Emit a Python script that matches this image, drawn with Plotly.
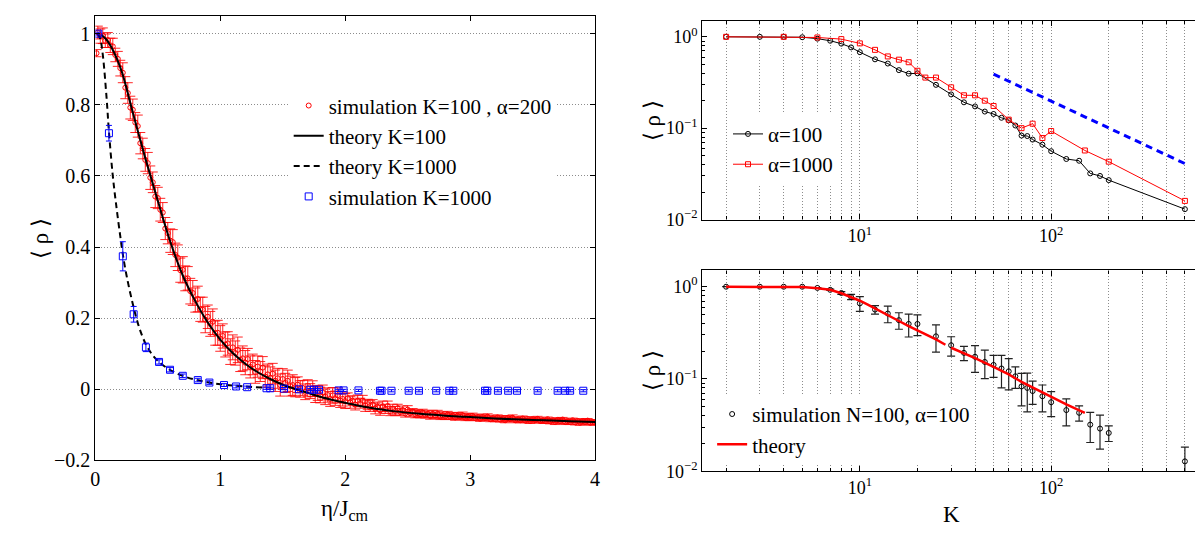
import plotly.graph_objects as go

FONT = "Liberation Serif, Times New Roman, serif"
W, H = 1203, 533

# ---------------- left panel data ----------------
red_x = [0.01,
         0.02, 0.04, 0.06, 0.08, 0.10, 0.12, 0.14, 0.16, 0.18, 0.20,
         0.22, 0.24, 0.26, 0.28, 0.30, 0.32, 0.34, 0.36, 0.38, 0.40,
         0.42, 0.44, 0.46, 0.48, 0.50, 0.52, 0.54, 0.56, 0.58, 0.60,
         0.62, 0.64, 0.66, 0.68, 0.70, 0.72, 0.74, 0.76, 0.78, 0.80,
         0.82, 0.84, 0.86, 0.88, 0.90, 0.92, 0.94, 0.96, 0.98, 1.00,
         1.02, 1.04, 1.06, 1.08, 1.10, 1.12, 1.14, 1.16, 1.18, 1.20,
         1.22, 1.24, 1.26, 1.28, 1.30, 1.32, 1.34, 1.36, 1.38, 1.40,
         1.42, 1.44, 1.46, 1.48, 1.50, 1.52, 1.54, 1.56, 1.58, 1.60,
         1.62, 1.64, 1.66, 1.68, 1.70, 1.72, 1.74, 1.76, 1.78, 1.80,
         1.82, 1.84, 1.86, 1.88, 1.90, 1.92, 1.94, 1.96, 1.98, 2.00,
         2.02, 2.04, 2.06, 2.08, 2.10, 2.12, 2.14, 2.16, 2.18, 2.20,
         2.22, 2.24, 2.26, 2.28, 2.30, 2.32, 2.34, 2.36, 2.38, 2.40,
         2.42, 2.44, 2.46, 2.48, 2.50, 2.52, 2.54, 2.56, 2.58, 2.60,
         2.62, 2.64, 2.66, 2.68, 2.70, 2.72, 2.74, 2.76, 2.78, 2.80,
         2.82, 2.84, 2.86, 2.88, 2.90, 2.92, 2.94, 2.96, 2.98, 3.00,
         3.02, 3.04, 3.06, 3.08, 3.10, 3.12, 3.14, 3.16, 3.18, 3.20,
         3.22, 3.24, 3.26, 3.28, 3.30, 3.32, 3.34, 3.36, 3.38, 3.40,
         3.42, 3.44, 3.46, 3.48, 3.50, 3.52, 3.54, 3.56, 3.58, 3.60,
         3.62, 3.64, 3.66, 3.68, 3.70, 3.72, 3.74, 3.76, 3.78, 3.80,
         3.82, 3.84, 3.86, 3.88, 3.90, 3.92, 3.94, 3.96, 3.98, 4.00]
red_y = [0.945,
         1.003, 0.993, 0.994, 0.980, 0.982, 0.967, 0.964, 0.940, 0.929, 0.903,
         0.890, 0.848, 0.833, 0.792, 0.786, 0.750, 0.740, 0.692, 0.677, 0.645,
         0.636, 0.595, 0.582, 0.542, 0.538, 0.505, 0.497, 0.452, 0.439, 0.418,
         0.414, 0.378, 0.370, 0.335, 0.336, 0.312, 0.312, 0.276, 0.271, 0.251,
         0.254, 0.225, 0.224, 0.196, 0.204, 0.184, 0.190, 0.158, 0.159, 0.143,
         0.150, 0.126, 0.129, 0.106, 0.118, 0.102, 0.111, 0.083, 0.087, 0.075,
         0.085, 0.063, 0.070, 0.049, 0.064, 0.050, 0.061, 0.036, 0.042, 0.032,
         0.044, 0.024, 0.031, 0.012, 0.029, 0.018, 0.024, 0.009, 0.012, 0.006,
         0.013, 0.001, 0.004, -0.007, 0.003, -0.005, 0.002, -0.014, -0.010, -0.016,
         -0.009, -0.021, -0.016, -0.027, -0.017, -0.025, -0.017, -0.032, -0.027, -0.033,
         -0.025, -0.037, -0.032, -0.043, -0.032, -0.039, -0.032, -0.046, -0.042, -0.047,
         -0.043, -0.054, -0.049, -0.059, -0.048, -0.055, -0.047, -0.061, -0.056, -0.061,
         -0.053, -0.064, -0.058, -0.068, -0.057, -0.067, -0.063, -0.070, -0.068, -0.070,
         -0.066, -0.072, -0.069, -0.075, -0.069, -0.073, -0.069, -0.076, -0.073, -0.076,
         -0.071, -0.077, -0.074, -0.079, -0.074, -0.077, -0.073, -0.080, -0.077, -0.080,
         -0.075, -0.081, -0.078, -0.083, -0.078, -0.081, -0.077, -0.084, -0.081, -0.084,
         -0.079, -0.085, -0.082, -0.087, -0.081, -0.084, -0.080, -0.087, -0.084, -0.087,
         -0.082, -0.088, -0.084, -0.089, -0.084, -0.087, -0.083, -0.089, -0.087, -0.089,
         -0.084, -0.090, -0.087, -0.092, -0.086, -0.089, -0.085, -0.092, -0.089, -0.092,
         -0.087, -0.093, -0.089, -0.094, -0.089, -0.092, -0.088, -0.094, -0.092, -0.093]
red_err = [0.010,
           0.018, 0.020, 0.022, 0.019, 0.021, 0.020, 0.023, 0.019, 0.021, 0.022,
           0.028, 0.031, 0.029, 0.032, 0.030, 0.028, 0.031, 0.030, 0.029, 0.032,
           0.030, 0.033, 0.029, 0.031, 0.030, 0.032, 0.028, 0.031, 0.030, 0.033,
           0.035, 0.033, 0.036, 0.034, 0.037, 0.035, 0.033, 0.036, 0.035, 0.034,
           0.036, 0.034, 0.035, 0.037, 0.033, 0.035, 0.036, 0.034, 0.035, 0.036,
           0.034, 0.035, 0.033, 0.036, 0.035, 0.034, 0.036, 0.033, 0.035, 0.034,
           0.030, 0.031, 0.029, 0.032, 0.030, 0.028, 0.031, 0.030, 0.029, 0.031,
           0.029, 0.030, 0.028, 0.031, 0.029, 0.027, 0.030, 0.028, 0.029, 0.027,
           0.022, 0.023, 0.021, 0.022, 0.024, 0.021, 0.022, 0.023, 0.021, 0.022,
           0.021, 0.022, 0.020, 0.021, 0.022, 0.020, 0.021, 0.019, 0.020, 0.021,
           0.015, 0.016, 0.014, 0.015, 0.016, 0.014, 0.015, 0.016, 0.014, 0.015,
           0.014, 0.015, 0.013, 0.014, 0.015, 0.013, 0.014, 0.013, 0.014, 0.013,
           0.011, 0.010, 0.011, 0.010, 0.011, 0.010, 0.009, 0.010, 0.011, 0.010,
           0.010, 0.009, 0.010, 0.009, 0.010, 0.009, 0.010, 0.009, 0.010, 0.009,
           0.009, 0.008, 0.009, 0.008, 0.009, 0.008, 0.009, 0.008, 0.009, 0.008,
           0.008, 0.007, 0.008, 0.007, 0.008, 0.007, 0.008, 0.007, 0.008, 0.007,
           0.007, 0.007, 0.008, 0.007, 0.007, 0.007, 0.008, 0.007, 0.007, 0.007,
           0.007, 0.006, 0.007, 0.007, 0.006, 0.007, 0.007, 0.006, 0.007, 0.007,
           0.006, 0.007, 0.006, 0.007, 0.006, 0.007, 0.006, 0.007, 0.006, 0.007,
           0.006, 0.007, 0.006, 0.007, 0.006, 0.007, 0.006, 0.007, 0.006, 0.007]
assert len(red_x) == len(red_y) == len(red_err)

theory100_x = [0.05, 0.1, 0.2, 0.3, 0.4, 0.5, 0.6, 0.7, 0.8, 0.9, 1.0, 1.1, 1.2, 1.3, 1.4, 1.5,
               1.6, 1.7, 1.8, 1.9, 2.0, 2.2, 2.4, 2.6, 2.8, 3.0, 3.2, 3.4, 3.6, 3.8, 4.0]
theory100_y = [0.996, 0.978, 0.905, 0.778, 0.650, 0.530, 0.415, 0.320, 0.248, 0.188, 0.140, 0.102,
               0.072, 0.048, 0.029, 0.013, 0.001, -0.010, -0.021, -0.030, -0.038, -0.052, -0.062,
               -0.069, -0.074, -0.078, -0.082, -0.085, -0.087, -0.090, -0.092]

theory1000_x = [0.02, 0.04, 0.06, 0.09, 0.11, 0.14, 0.17, 0.20, 0.22, 0.25, 0.30, 0.35, 0.40,
                0.45, 0.50, 0.60, 0.70, 0.80, 0.90, 1.00, 1.20, 1.35]
theory1000_y = [1.000, 0.985, 0.940, 0.820, 0.720, 0.600, 0.510, 0.430, 0.380, 0.320, 0.240,
                0.175, 0.130, 0.100, 0.080, 0.054, 0.038, 0.027, 0.020, 0.014, 0.008, 0.005]

blue_x = [0.024, 0.109, 0.22, 0.307, 0.405, 0.51, 0.598, 0.70, 0.82, 0.913, 1.03, 1.127, 1.215,
          1.37, 1.40, 1.51, 1.63, 1.72, 1.75, 1.79, 1.947, 1.987, 2.106, 2.278, 2.291, 2.37,
          2.508, 2.59, 2.728, 2.833, 2.865, 3.119, 3.137, 3.222, 3.304, 3.375, 3.54, 3.70,
          3.76, 3.80, 3.905]
blue_y = [1.0, 0.72, 0.374, 0.211, 0.118, 0.077, 0.055, 0.038, 0.026, 0.019, 0.012, 0.008, 0.006,
          0.003, 0.003, 0.002, 0.0, -0.001, -0.001, -0.001, -0.003, -0.003, -0.003, -0.004, -0.004,
          -0.004, -0.004, -0.004, -0.004, -0.004, -0.004, -0.004, -0.004, -0.004, -0.004, -0.004,
          -0.004, -0.004, -0.004, -0.004, -0.004]
blue_err = [0.004, 0.022, 0.041, 0.022, 0.012, 0.006, 0.006, 0.005, 0.005, 0.005, 0.004, 0.004,
            0.003, 0.003, 0.003, 0.003, 0.003, 0.003, 0.003, 0.003, 0.003, 0.003, 0.003, 0.003,
            0.003, 0.003, 0.003, 0.003, 0.003, 0.003, 0.003, 0.003, 0.003, 0.003, 0.003, 0.003,
            0.003, 0.003, 0.003, 0.003, 0.003]

# ---------------- top-right panel data ----------------
K_a100 = [2, 3, 4, 5, 6, 7, 8, 9, 10, 12, 14, 16, 18, 20, 25, 30, 35, 40, 45, 50, 55, 60, 65,
          70, 75, 80, 90, 100, 120, 140, 160, 180, 200, 500]
rho_a100 = [1.0, 1.0, 1.0, 0.99, 0.955, 0.906, 0.842, 0.766, 0.679, 0.567, 0.510, 0.432, 0.395,
            0.398, 0.298, 0.234, 0.192, 0.173, 0.152, 0.143, 0.130, 0.122, 0.107, 0.083, 0.082,
            0.075, 0.066, 0.056, 0.046, 0.044, 0.032, 0.030, 0.027, 0.013]
K_a1000 = [2, 4, 6, 8, 10, 12, 14, 16, 18, 20, 22, 25, 30, 35, 40, 45, 50, 60, 70, 80, 90, 100,
           150, 200, 500]
rho_a1000 = [1.0, 1.0, 0.984, 0.944, 0.848, 0.720, 0.610, 0.562, 0.527, 0.425, 0.358, 0.358,
             0.280, 0.229, 0.229, 0.200, 0.175, 0.124, 0.100, 0.112, 0.078, 0.093, 0.057, 0.043,
             0.016]
guide_K = [50, 500]
guide_rho = [0.39, 0.041]

# ---------------- bottom-right panel data ----------------
K_sim = K_a100
rho_sim = [1.0, 1.0, 1.0, 1.0, 0.97, 0.925, 0.855, 0.775, 0.66, 0.565, 0.512, 0.434, 0.395,
           0.395, 0.29, 0.232, 0.192, 0.174, 0.153, 0.142, 0.130, 0.121, 0.107, 0.083, 0.080,
           0.074, 0.065, 0.056, 0.046, 0.043, 0.032, 0.029, 0.026, 0.0128]
rho_sim_err = [0.0, 0.0, 0.0, 0.004, 0.008, 0.015, 0.03, 0.05, 0.12, 0.06, 0.105, 0.088, 0.11,
               0.10, 0.095, 0.055, 0.034, 0.056, 0.052, 0.038, 0.05, 0.045, 0.028, 0.032, 0.036,
               0.021, 0.021, 0.017, 0.015, 0.008, 0.0115, 0.0116, 0.005, 0.0055]
K_theory = [2, 3, 4, 5, 6, 7, 8, 9, 10, 11, 12, 14, 16, 18, 20, 22, 25, 28, None, 30, 35, 40,
            50, 60, 70, 80, 100, 120, 150]
rho_theory = [1.0, 1.0, 0.998, 0.99, 0.965, 0.925, 0.85, 0.775, 0.705, 0.64, 0.58, 0.49, 0.425,
              0.375, 0.338, 0.305, 0.268, 0.235, None, 0.218, 0.19, 0.168, 0.135, 0.112, 0.093,
              0.081, 0.063, 0.053, 0.043]

# ---------------- tick labels ----------------
log_x_vals = [10, 100]
log_x_text = ["10<sup>1</sup>", "10<sup>2</sup>"]
log_y_vals = [0.01, 0.1, 1]
log_y_text = ["10<sup>\u22122</sup>", "10<sup>\u22121</sup>", "10<sup>0</sup>"]


def fx(p):
    return p / W


def fy(p):
    return 1 - p / H


fig = go.Figure()

# left panel
fig.add_trace(go.Scatter(
    x=red_x, y=red_y, mode="markers", name="simulation K=100 , \u03b1=200",
    marker=dict(symbol="circle-open", size=5, color="red", line=dict(width=1)),
    error_y=dict(type="data", array=red_err, color="rgba(255,0,0,0.85)", thickness=1, width=5),
    xaxis="x", yaxis="y", legend="legend"))
fig.add_trace(go.Scatter(
    x=theory100_x, y=theory100_y, mode="lines", name="theory K=100",
    line=dict(color="black", width=2, shape="spline"),
    xaxis="x", yaxis="y", legend="legend"))
fig.add_trace(go.Scatter(
    x=theory1000_x, y=theory1000_y, mode="lines", name="theory K=1000",
    line=dict(color="black", width=2, dash="6px,4px", shape="spline"),
    xaxis="x", yaxis="y", legend="legend"))
fig.add_trace(go.Scatter(
    x=blue_x, y=blue_y, mode="markers", name="simulation K=1000",
    marker=dict(symbol="square-open", size=7, color="blue", line=dict(width=1)),
    error_y=dict(type="data", array=blue_err, color="blue", thickness=1, width=3),
    xaxis="x", yaxis="y", legend="legend"))

# top-right panel
fig.add_trace(go.Scatter(
    x=K_a100, y=rho_a100, mode="lines+markers", name="\u03b1=100",
    line=dict(color="black", width=1),
    marker=dict(symbol="circle-open", size=5, color="black", line=dict(width=1)),
    xaxis="x2", yaxis="y2", legend="legend2"))
fig.add_trace(go.Scatter(
    x=K_a1000, y=rho_a1000, mode="lines+markers", name="\u03b1=1000",
    line=dict(color="red", width=1),
    marker=dict(symbol="square-open", size=5, color="red", line=dict(width=1)),
    xaxis="x2", yaxis="y2", legend="legend2"))
fig.add_trace(go.Scatter(
    x=guide_K, y=guide_rho, mode="lines", showlegend=False,
    line=dict(color="blue", width=3, dash="7px,5px"),
    xaxis="x2", yaxis="y2"))

# bottom-right panel
fig.add_trace(go.Scatter(
    x=K_sim, y=rho_sim, mode="markers", name="simulation N=100, \u03b1=100",
    marker=dict(symbol="circle-open", size=5, color="black", line=dict(width=1)),
    error_y=dict(type="data", array=rho_sim_err, color="#222", thickness=1.2, width=4),
    xaxis="x3", yaxis="y3", legend="legend3"))
fig.add_trace(go.Scatter(
    x=K_theory, y=rho_theory, mode="lines", name="theory", connectgaps=False,
    line=dict(color="red", width=2.5),
    xaxis="x3", yaxis="y3", legend="legend3"))

GRID_COLOR = "#8c8c8c"
GRID_DASH = "1px,2px"
axis_common = dict(showline=True, linecolor="black", linewidth=1.3, mirror="ticks",
                   ticks="inside", ticklen=5, tickcolor="black", zeroline=False)
grid_dot = dict(gridcolor=GRID_COLOR, griddash=GRID_DASH, gridwidth=1)
minor_x = dict(ticks="inside", ticklen=3, tickcolor="black", dtick="D1",
               showgrid=True, gridcolor=GRID_COLOR, griddash=GRID_DASH, gridwidth=1)
minor_y = dict(ticks="inside", ticklen=3, tickcolor="black", dtick="D1", showgrid=False)

fig.update_layout(
    width=W, height=H, margin=dict(l=0, r=0, t=0, b=0),
    paper_bgcolor="white", plot_bgcolor="white",
    font=dict(family=FONT, color="black", size=18),
    xaxis=dict(domain=[fx(83), fx(587)], range=[0, 4], dtick=1, tick0=0, showgrid=False,
               tickfont=dict(size=20), anchor="y", **axis_common),
    yaxis=dict(domain=[fy(462), fy(8)], range=[-0.2, 1.05], dtick=0.2, tick0=0,
               showgrid=True, tickfont=dict(size=20), anchor="x", **grid_dot, **axis_common),
    xaxis2=dict(domain=[fx(695), fx(1197)], type="log", range=[0.1761, 2.7782],
                tickmode="array", tickvals=log_x_vals, ticktext=log_x_text,
                showgrid=True, **grid_dot, minor=minor_x,
                tickfont=dict(size=18), anchor="y2", **axis_common),
    yaxis2=dict(domain=[fy(216), fy(13)], type="log", range=[-2, 0.1761],
                tickmode="array", tickvals=log_y_vals, ticktext=log_y_text, showgrid=False,
                minor=minor_y, tickfont=dict(size=18), anchor="x2", **axis_common),
    xaxis3=dict(domain=[fx(695), fx(1197)], type="log", range=[0.1761, 2.7782],
                tickmode="array", tickvals=log_x_vals, ticktext=log_x_text,
                showgrid=True, **grid_dot, minor=minor_x,
                tickfont=dict(size=18), anchor="y3", **axis_common),
    yaxis3=dict(domain=[fy(473), fy(268)], type="log", range=[-2, 0.1761],
                tickmode="array", tickvals=log_y_vals, ticktext=log_y_text, showgrid=False,
                minor=minor_y, tickfont=dict(size=18), anchor="x3", **axis_common),
    legend=dict(x=fx(278), y=fy(79), xanchor="left", yanchor="top", bgcolor="white",
                borderwidth=0, font=dict(size=21, family=FONT)),
    legend2=dict(x=fx(721), y=fy(108), xanchor="left", yanchor="top", bgcolor="white",
                 borderwidth=0, font=dict(size=21, family=FONT)),
    legend3=dict(x=fx(705), y=fy(394), xanchor="left", yanchor="top", bgcolor="white",
                 borderwidth=0, font=dict(size=21, family=FONT)),
    annotations=[
        dict(text="\u03b7/J<sub>cm</sub>", x=fx(335), y=fy(513), xref="paper", yref="paper",
             xanchor="center", yanchor="middle", showarrow=False, font=dict(size=23, family=FONT)),
        dict(text="\u27e8 \u03c1 \u27e9", x=fx(27), y=fy(235), xref="paper", yref="paper",
             xanchor="center", yanchor="middle", showarrow=False, textangle=-90,
             font=dict(size=23, family=FONT)),
        dict(text="\u27e8 \u03c1 \u27e9", x=fx(645), y=fy(115), xref="paper", yref="paper",
             xanchor="center", yanchor="middle", showarrow=False, textangle=-90,
             font=dict(size=23, family=FONT)),
        dict(text="\u27e8 \u03c1 \u27e9", x=fx(645), y=fy(370), xref="paper", yref="paper",
             xanchor="center", yanchor="middle", showarrow=False, textangle=-90,
             font=dict(size=23, family=FONT)),
        dict(text="K", x=fx(946), y=fy(517), xref="paper", yref="paper",
             xanchor="center", yanchor="middle", showarrow=False, font=dict(size=23, family=FONT)),
    ],
)

fig.write_html("out.html")
